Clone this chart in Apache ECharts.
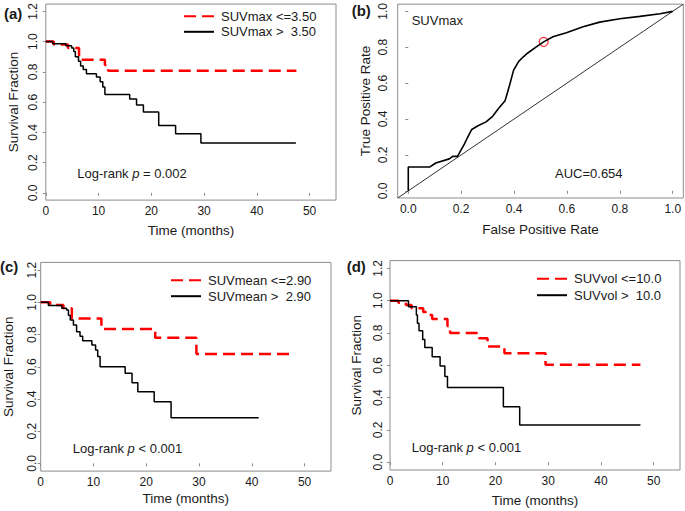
<!DOCTYPE html>
<html>
<head>
<meta charset="utf-8">
<script src="https://cdn.jsdelivr.net/npm/echarts@6/dist/echarts.min.js"></script>
<style>html,body{margin:0;padding:0;background:#fff}#c{width:685px;height:511px}</style>
</head>
<body>
<div id="c"></div>
<script>
// ---- Data ----
const timeTicks = [0, 10, 20, 30, 40, 50];
const survTicks = [0, 0.2, 0.4, 0.6, 0.8, 1.0, 1.2];
const rateTicks = [0, 0.2, 0.4, 0.6, 0.8, 1.0];

// Panel (a) SUVmax
const aLowName = 'SUVmax <=3.50';
const aLowT = [0, 1.5, 4.2, 6.3, 11.2, 11.8, 47.5];
const aLowS = [1, 0.98, 0.957, 0.88, 0.845, 0.808, 0.808];
const aHighName = 'SUVmax >  3.50';
const aHighT = [0, 1.3, 3.8, 4.9, 5.3, 5.6, 6.2, 6.6, 7.1, 7.7, 9.6, 10.3, 10.8, 11.2, 15.9, 17.2, 18.5, 21.4, 24.6, 29.4, 47.4];
const aHighS = [1, 0.985, 0.972, 0.957, 0.935, 0.9, 0.87, 0.838, 0.815, 0.787, 0.766, 0.735, 0.7, 0.65, 0.62, 0.58, 0.535, 0.445, 0.39, 0.33, 0.33];
const aPText = ['Log-rank ', 'p', ' = 0.002'];

// Panel (b) ROC
const rocFPR = [0, 0, 0.082, 0.104, 0.155, 0.168, 0.186, 0.212, 0.224, 0.24, 0.262, 0.294, 0.319, 0.342, 0.366, 0.383, 0.398, 0.417, 0.433, 0.452, 0.484, 0.512, 0.547, 0.598, 0.661, 0.724, 0.8, 0.876, 0.952, 1.0];
const rocTPR = [0, 0.133, 0.133, 0.155, 0.178, 0.192, 0.192, 0.26, 0.297, 0.342, 0.361, 0.384, 0.415, 0.46, 0.502, 0.588, 0.671, 0.72, 0.744, 0.768, 0.802, 0.83, 0.858, 0.881, 0.914, 0.94, 0.959, 0.972, 0.987, 1.0];
const refLine = [-0.04, 1.04];
const cutoffPoint = [0.512, 0.83];
const rocLabel = 'SUVmax';
const aucText = 'AUC=0.654';

// Panel (c) SUVmean
const cLowName = 'SUVmean <=2.90';
const cLowT = [0, 1.8, 4.3, 5.9, 11.5, 21.7, 29.5, 47.2];
const cLowS = [1, 0.983, 0.963, 0.9, 0.834, 0.78, 0.679, 0.679];
const cHighName = 'SUVmean >  2.90';
const cHighT = [0, 1.45, 4.0, 4.9, 5.25, 5.6, 6.2, 6.8, 7.45, 7.95, 9.7, 10.4, 10.8, 11.25, 16.0, 17.3, 18.4, 21.5, 24.7, 41.3];
const cHighS = [1, 0.98, 0.963, 0.953, 0.92, 0.89, 0.86, 0.818, 0.79, 0.762, 0.735, 0.704, 0.663, 0.6, 0.56, 0.5, 0.445, 0.383, 0.284, 0.284];
const cPText = ['Log-rank ', 'p', ' < 0.001'];

// Panel (d) SUVvol
const dLowName = 'SUVvol <=10.0';
const dLowT = [0, 1.6, 3.0, 4.1, 6.3, 6.8, 8.0, 10.9, 11.4, 16.9, 18.5, 21.7, 29.5, 47.5];
const dLowS = [1, 0.987, 0.973, 0.953, 0.93, 0.911, 0.887, 0.843, 0.8, 0.767, 0.716, 0.675, 0.603, 0.603];
const dHighName = 'SUVvol >  10.0';
const dHighT = [0, 3.5, 5.0, 5.2, 5.5, 6.2, 6.6, 8.0, 9.5, 10.4, 10.9, 21.5, 24.6, 47.5];
const dHighS = [1, 0.963, 0.911, 0.86, 0.814, 0.76, 0.71, 0.653, 0.596, 0.53, 0.462, 0.344, 0.231, 0.231];
const dPText = ['Log-rank ', 'p', ' < 0.001'];

const survTitle = 'Survival Fraction';
const timeTitle = 'Time (months)';

// ---- Build ----
const FONT = '"Liberation Sans", Arial, Helvetica, sans-serif';
const BOX = '#8c8c8c';
const TXT = '#1a1a1a';
const pairs = (xs, ys) => xs.map((x, i) => [x, ys[i]]);

const grids = [
  {left: 45.8, top: 0, width: 290.2, height: 200.1},
  {left: 397.7, top: 1, width: 285.6, height: 197},
  {left: 40.7, top: 262.4, width: 290.3, height: 208.7},
  {left: 390, top: 260.6, width: 290, height: 209.4}
].map(g => Object.assign({show: true, borderColor: BOX, borderWidth: 1, backgroundColor: 'transparent', containLabel: false}, g));

function xAx(idx, min, max, ticks, name, gap, fmt) {
  return {
    type: 'value', gridIndex: idx, min: min, max: max,
    splitLine: {show: false},
    axisLine: {show: false},
    axisTick: {show: true, length: 3, customValues: ticks, lineStyle: {color: BOX}},
    axisLabel: {customValues: ticks, margin: 5, fontSize: 12, fontFamily: FONT, color: TXT, formatter: fmt},
    name: name, nameLocation: 'middle', nameGap: gap,
    nameTextStyle: {fontSize: 13.5, fontFamily: FONT, color: TXT}
  };
}
function yAx(idx, min, max, ticks, name, margin, gap) {
  return {
    type: 'value', gridIndex: idx, min: min, max: max,
    splitLine: {show: false},
    axisLine: {show: false},
    axisTick: {show: true, length: 3, customValues: ticks, lineStyle: {color: BOX}},
    axisLabel: {customValues: ticks, margin: margin, rotate: 90, fontSize: 12, fontFamily: FONT, color: TXT,
      formatter: v => Number(v).toFixed(1)},
    name: name, nameLocation: 'middle', nameGap: gap,
    nameTextStyle: {fontSize: 13.5, fontFamily: FONT, color: TXT}
  };
}

const dash = {color: '#ff0000', width: 2.5, type: [12, 6]};
const solid = {color: '#000000', width: 1.5};
function km(name, idx, xs, ys, style) {
  return {name: name, type: 'line', step: 'end', xAxisIndex: idx, yAxisIndex: idx,
    data: pairs(xs, ys), symbol: 'none', lineStyle: style, itemStyle: {color: style.color},
    animation: false, silent: true};
}

function legend(left, top, gap, names) {
  return {orient: 'vertical', left: left, top: top, padding: 0, itemWidth: 30, itemHeight: 14, itemGap: gap,
    data: names, selectedMode: false, itemStyle: {opacity: 0},
    textStyle: {fontSize: 13, fontFamily: FONT, color: TXT, padding: [0, 0, 0, 2]}};
}

function pText(x, y, parts) {
  return {type: 'text', x: x, y: y, style: {
    text: '{n|' + parts[0] + '}{i|' + parts[1] + '}{n|' + parts[2] + '}',
    rich: {n: {fontSize: 13, fontFamily: FONT, fill: TXT}, i: {fontSize: 13, fontFamily: FONT, fontStyle: 'italic', fill: TXT}},
    verticalAlign: 'middle', align: 'left'}};
}
function label(x, y, t, size, bold) {
  return {type: 'text', x: x, y: y, style: {text: t, fontSize: size, fontFamily: FONT,
    fontWeight: bold ? 'bold' : 'normal', fill: TXT, verticalAlign: 'middle', align: 'left'}};
}

const option = {
  animation: false,
  backgroundColor: '#ffffff',
  grid: grids,
  xAxis: [
    xAx(0, 0, 55, timeTicks, timeTitle, 23, v => String(v)),
    xAx(1, -0.04, 1.04, rateTicks, 'False Positive Rate', 24, v => Number(v).toFixed(1)),
    xAx(2, 0, 55, timeTicks, timeTitle, 20, v => String(v)),
    xAx(3, 0, 55, timeTicks, timeTitle, 23, v => String(v))
  ],
  yAxis: [
    yAx(0, -0.048, 1.248, survTicks, survTitle, 6.5, 25.5),
    yAx(1, -0.04, 1.04, rateTicks, 'True Positive Rate', 8.4, 25.7),
    yAx(2, -0.048, 1.248, survTicks, survTitle, 3, 25.4),
    yAx(3, -0.048, 1.248, survTicks, survTitle, 6.3, 26.3)
  ],
  legend: [
    legend(183, 9.7, 2.6, [aLowName, aHighName]),
    legend(170, 273.7, 3, [cLowName, cHighName]),
    legend(536, 272.3, 3.4, [dLowName, dHighName])
  ],
  series: [
    km(aLowName, 0, aLowT, aLowS, dash),
    km(aHighName, 0, aHighT, aHighS, solid),
    {type: 'line', xAxisIndex: 1, yAxisIndex: 1, data: pairs(refLine, refLine), symbol: 'none',
      lineStyle: {color: '#333333', width: 1}, silent: true},
    {type: 'line', xAxisIndex: 1, yAxisIndex: 1, data: pairs(rocFPR, rocTPR), symbol: 'none',
      lineStyle: {color: '#000000', width: 1.6}, silent: true},
    {type: 'scatter', xAxisIndex: 1, yAxisIndex: 1, data: [cutoffPoint], symbol: 'circle', symbolSize: 9,
      itemStyle: {color: 'transparent', borderColor: '#ff0000', borderWidth: 1.2}, silent: true},
    km(cLowName, 2, cLowT, cLowS, dash),
    km(cHighName, 2, cHighT, cHighS, solid),
    km(dLowName, 3, dLowT, dLowS, dash),
    km(dHighName, 3, dHighT, dHighS, solid)
  ],
  graphic: [
    label(4, 13.3, '(a)', 15, true),
    label(351.7, 10.5, '(b)', 15, true),
    label(0, 266.7, '(c)', 15, true),
    label(346.7, 266.7, '(d)', 15, true),
    pText(77.3, 173.3, aPText),
    pText(72.7, 448.3, cPText),
    pText(411.7, 447.7, dPText),
    label(411.7, 20, rocLabel, 13, false),
    label(555, 173, aucText, 13, false)
  ]
};

const chart = echarts.init(document.getElementById('c'), null, {renderer: 'svg', width: 685, height: 511});
chart.setOption(option);
</script>
</body>
</html>
